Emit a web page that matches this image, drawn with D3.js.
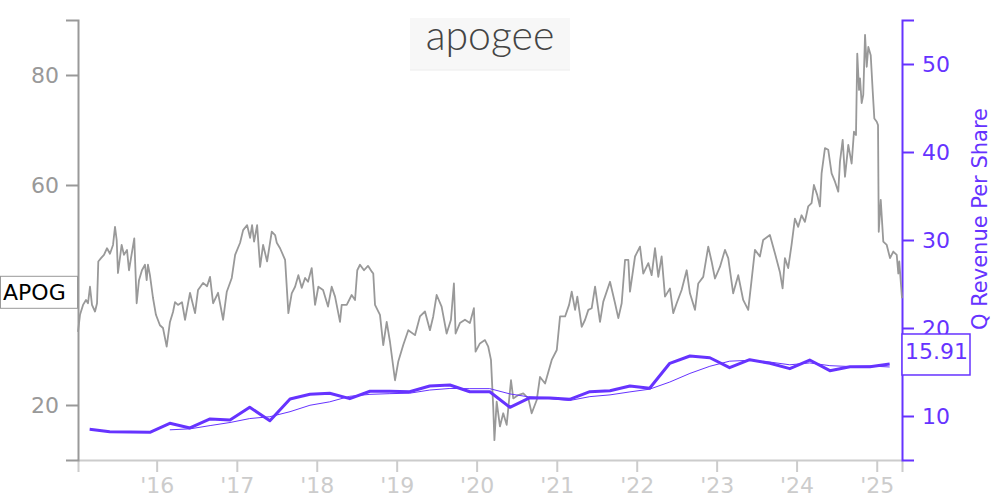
<!DOCTYPE html>
<html>
<head>
<meta charset="utf-8">
<script src="https://cdn.jsdelivr.net/npm/d3@7"></script>
<style>
  html, body { margin: 0; padding: 0; background: #fff; }
  svg { display: block; font-family: "DejaVu Sans", sans-serif; }
</style>
</head>
<body>
<svg id="chart" width="1000" height="500"></svg>
<script>
// ---------- DATA ----------
// Stock price (APOG), dates as decimal years
const priceYears = [
  2015.016,2015.041,2015.079,2015.116,2015.141,2015.166,2015.191,2015.229,2015.254,2015.270,
  2015.304,2015.341,2015.379,2015.416,2015.454,2015.479,2015.500,2015.516,2015.562,2015.591,
  2015.629,2015.654,2015.679,2015.720,2015.750,2015.779,2015.816,2015.854,2015.875,2015.891,
  2015.916,2015.954,2015.991,2016.041,2016.079,2016.125,2016.166,2016.204,2016.229,2016.266,
  2016.316,2016.354,2016.416,2016.479,2016.516,2016.579,2016.629,2016.666,2016.704,2016.766,
  2016.829,2016.875,2016.937,2016.979,2017.041,2017.079,
  2017.129,2017.166,2017.191,2017.216,2017.254,2017.291,2017.329,2017.379,2017.437,2017.479,
  2017.500,2017.541,2017.604,2017.645,2017.687,2017.729,2017.770,2017.812,2017.854,2017.891,
  2017.937,2017.979,2018.020,2018.079,2018.141,2018.187,2018.229,2018.291,2018.312,2018.375,
  2018.437,2018.479,2018.507,2018.541,2018.591,2018.641,2018.691,2018.707,2018.729,2018.791,
  2018.832,2018.875,2018.916,2018.979,2019.020,2019.082,2019.145,
  2019.229,2019.291,2019.354,2019.416,2019.457,2019.500,2019.562,2019.625,2019.679,2019.716,
  2019.737,2019.791,2019.854,2019.916,2019.966,2019.987,2020.041,2020.104,2020.145,2020.179,
  2020.207,2020.222,2020.250,2020.291,2020.332,2020.375,2020.429,2020.457,2020.520,2020.582,
  2020.645,2020.687,2020.750,2020.791,2020.854,2020.937,2021.000,2021.041,2021.104,2021.154,
  2021.187,
  2021.229,2021.257,2021.312,2021.354,2021.395,2021.437,2021.479,2021.541,2021.582,2021.666,
  2021.729,2021.770,2021.812,2021.854,2021.895,2021.916,2021.979,2022.041,2022.082,2022.145,
  2022.187,2022.229,2022.270,2022.312,2022.354,2022.416,2022.457,2022.500,2022.562,2022.625,
  2022.666,2022.729,2022.770,2022.832,2022.895,2022.937,2022.979,2023.041,2023.104,2023.145,
  2023.207,2023.270,2023.332,2023.395,2023.437,2023.479,2023.541,2023.582,2023.666,2023.729,
  2023.791,2023.825,2023.854,2023.895,2023.937,2023.979,2024.020,2024.062,2024.104,2024.145,
  2024.187,2024.216,2024.257,2024.291,2024.312,2024.354,2024.395,2024.437,2024.479,2024.520,
  2024.541,2024.575,2024.604,2024.645,2024.687,2024.716,2024.741,2024.757,2024.779,2024.791,
  2024.812,2024.832,2024.854,2024.875,2024.895,2024.925,2024.950,2024.970,2025.000,2025.016,
  2025.025,2025.050,2025.082,2025.125,2025.166,2025.207,2025.250,2025.270,2025.282,2025.316
];
const priceValues = [
  33.3,36.4,38.2,39.1,38.5,41.5,38.2,37.0,38.5,46.1,
  46.7,47.3,48.5,47.5,49.1,52.4,50.0,44.0,49.1,47.3,
  48.2,44.5,46.7,50.3,38.5,42.7,44.5,45.5,42.7,45.5,
  43.6,39.5,36.4,34.5,34.0,30.6,35.1,36.9,38.7,38.2,
  38.7,35.5,40.4,36.7,40.9,42.2,41.6,43.3,38.5,40.4,
  35.5,40.6,43.1,47.3,49.5,51.8,
  52.7,50.4,52.7,49.7,52.7,45.1,49.1,46.1,51.5,50.9,
  49.5,48.5,46.4,36.7,40.3,41.5,43.6,41.3,43.1,42.4,
  44.9,38.2,41.5,40.9,37.9,41.5,39.7,35.1,38.2,38.2,
  40.0,39.1,44.5,45.5,44.5,45.3,44.2,43.9,38.2,36.4,
  30.9,35.1,31.5,24.5,27.9,30.9,33.6,
  32.7,36.1,37.0,33.6,36.1,40.0,37.9,33.0,35.5,42.1,
  33.0,34.9,35.5,34.9,37.6,29.7,31.2,31.8,30.6,28.2,
  19.7,13.6,20.6,16.1,18.5,16.4,24.5,21.2,21.8,22.1,
  21.2,18.5,20.9,25.1,23.9,28.2,30.0,36.1,36.1,38.2,
  40.6,
  37.3,39.7,34.2,35.5,37.3,37.6,41.5,35.1,38.8,42.4,
  38.5,35.8,38.5,46.4,46.4,40.6,47.0,48.8,43.9,45.8,
  43.6,48.5,43.3,47.0,39.7,41.2,36.7,38.5,40.9,44.5,
  40.3,37.3,42.1,43.3,48.8,46.1,43.0,45.1,48.2,46.7,
  40.3,43.6,39.1,37.3,42.7,48.2,47.0,50.0,50.9,47.6,
  44.2,41.2,46.7,44.9,49.1,53.9,52.4,54.5,53.3,56.1,
  56.7,60.0,58.2,56.1,62.1,66.7,66.4,62.1,60.6,58.8,
  64.2,68.2,61.5,67.3,63.9,69.7,69.1,83.9,77.3,79.4,
  74.9,76.4,87.3,81.5,85.1,83.6,77.0,72.1,71.5,70.9,
  51.5,57.3,49.7,49.1,46.7,47.9,47.3,43.9,46.1,39.4
];

// Quarterly revenue per share
const revDates = [
  "2015-03-01","2015-06-01","2015-09-01","2015-12-01",
  "2016-03-01","2016-06-01","2016-09-01","2016-12-01",
  "2017-03-01","2017-06-01","2017-09-01","2017-12-01",
  "2018-03-01","2018-06-01","2018-09-01","2018-12-01",
  "2019-03-01","2019-06-01","2019-09-01","2019-12-01",
  "2020-03-01","2020-06-01","2020-09-01","2020-12-01",
  "2021-03-01","2021-06-01","2021-09-01","2021-12-01",
  "2022-03-01","2022-06-01","2022-09-01","2022-12-01",
  "2023-03-01","2023-06-01","2023-09-01","2023-12-01",
  "2024-03-01","2024-06-01","2024-09-01","2024-12-01",
  "2025-03-01"
];
const revValues = [
  8.49,8.22,8.18,8.15,
  9.17,8.64,9.66,9.55,
  10.99,9.47,11.93,12.47,
  12.58,11.97,12.81,12.81,
  12.76,13.41,13.52,12.76,
  12.76,10.99,12.08,12.05,
  11.90,12.76,12.87,13.41,
  13.15,15.99,16.82,16.62,
  15.49,16.40,15.99,15.38,
  16.36,15.15,15.60,15.60,
  15.91
];
// Smoothed (thin) revenue line, starts at 2016-03
const revSmoothStart = 4;
const revSmoothValues = [
  8.43,8.54,8.91,9.26,
  9.71,9.92,10.49,11.22,
  11.61,12.24,12.46,12.54,
  12.59,12.95,13.13,13.11,
  13.11,12.51,12.15,11.97,
  11.76,12.20,12.40,12.74,
  13.05,13.86,14.84,15.65,
  16.23,16.33,16.13,15.82,
  16.03,15.72,15.62,15.68,
  15.57
];

const leftTicks = [20, 60, 80];
const rightTicks = [10, 20, 30, 40, 50];
const tickerLabel = "APOG";
const revLabel = "15.91";
const rightTitle = "Q Revenue Per Share";
const logoText = "apogee";

// ---------- HELPERS ----------
function decYear(t) {
  const y = Math.floor(t);
  const s = new Date(y, 0, 1), e = new Date(y + 1, 0, 1);
  return new Date(+s + (t - y) * (e - s));
}
const parse = d3.timeParse("%Y-%m-%d");

const price = priceYears.map((t, i) => ({ date: decYear(t), v: priceValues[i] }));
const rev = revDates.map((d, i) => ({ date: parse(d), v: revValues[i] }));
const revSmooth = revSmoothValues.map((v, i) => ({ date: parse(revDates[i + revSmoothStart]), v }));

// ---------- LAYOUT ----------
const L = 78, R = 902, T = 20, B = 460;
const purple = "#6633ff";
const FONT = "'DejaVu Sans', sans-serif";
const fs = "22px";

const svg = d3.select("#chart");

const x = d3.scaleTime().domain(d3.extent(price, d => d.date)).range([L, R]);
const yL = d3.scaleLinear().domain([10, 90]).range([B, T]);
const yR = d3.scaleLinear().domain([5, 55]).range([B, T]);

// logo
const logo = svg.append("g");
logo.append("rect").attr("x", 410).attr("y", 18).attr("width", 160).attr("height", 52).attr("fill", "#f7f7f7");
logo.append("line").attr("x1", 410).attr("x2", 570).attr("y1", 70).attr("y2", 70).attr("stroke", "#ececec");
logo.append("text").attr("x", 490).attr("y", 50).attr("text-anchor", "middle")
  .style("font-family", "Lato, 'Open Sans', sans-serif").style("font-weight", 300)
  .style("font-size", "41px").attr("fill", "#444444")
  .text(logoText);

// axes
const gx = svg.append("g").attr("transform", `translate(0,${B})`)
  .call(d3.axisBottom(x).ticks(d3.timeYear.every(1)).tickFormat(d3.timeFormat("'%y")).tickSize(12).tickPadding(5));
gx.attr("font-family", FONT).attr("font-size", fs);
gx.selectAll("path,line").attr("stroke", "#cccccc").attr("stroke-width", 2);
gx.selectAll("text").attr("fill", "#cccccc");

const gl = svg.append("g").attr("transform", `translate(${L},0)`)
  .call(d3.axisLeft(yL).tickValues(leftTicks).tickSize(12).tickPadding(7));
gl.attr("font-family", FONT).attr("font-size", fs);
gl.selectAll("path,line").attr("stroke", "#999999").attr("stroke-width", 2);
gl.selectAll("text").attr("fill", "#999999");

const gr = svg.append("g").attr("transform", `translate(${R},0)`)
  .call(d3.axisRight(yR).tickValues(rightTicks).tickSize(12).tickPadding(8));
gr.attr("font-family", FONT).attr("font-size", fs);
gr.selectAll("path,line").attr("stroke", purple).attr("stroke-width", 2);
gr.selectAll("text").attr("fill", purple);

svg.append("text").attr("transform", `translate(987,219) rotate(-90)`)
  .attr("text-anchor", "middle").attr("fill", purple)
  .style("font-family", FONT).style("font-size", "21px").text(rightTitle);

// lines
const lineL = d3.line().x(d => x(d.date)).y(d => yL(d.v));
const lineR = d3.line().x(d => x(d.date)).y(d => yR(d.v));

svg.append("path").datum(price).attr("d", lineL).attr("fill", "none")
  .attr("stroke", "#999999").attr("stroke-width", 1.8).attr("stroke-linejoin", "round");
svg.append("path").datum(revSmooth).attr("d", lineR).attr("fill", "none")
  .attr("stroke", purple).attr("stroke-width", 1);
svg.append("path").datum(rev).attr("d", lineR).attr("fill", "none")
  .attr("stroke", purple).attr("stroke-width", 3).attr("stroke-linejoin", "round");

// end labels
const lastP = price[price.length - 1];
const py = yL(lastP.v);
svg.append("rect").attr("x", 0.5).attr("y", py - 22).attr("width", 77).attr("height", 32)
  .attr("fill", "#fff").attr("stroke", "#999999").attr("stroke-width", 1);
svg.append("text").attr("x", 3).attr("y", py + 2).attr("fill", "#000")
  .style("font-family", FONT).style("font-size", fs).text(tickerLabel);

const lastR = rev[rev.length - 1];
const ry = yR(lastR.v);
svg.append("rect").attr("x", R).attr("y", ry - 30).attr("width", 68).attr("height", 41)
  .attr("fill", "#fff").attr("stroke", purple).attr("stroke-width", 1.5);
svg.append("text").attr("x", R + 3).attr("y", ry - 5).attr("fill", purple)
  .style("font-family", FONT).style("font-size", fs).text(revLabel);
</script>
</body>
</html>
